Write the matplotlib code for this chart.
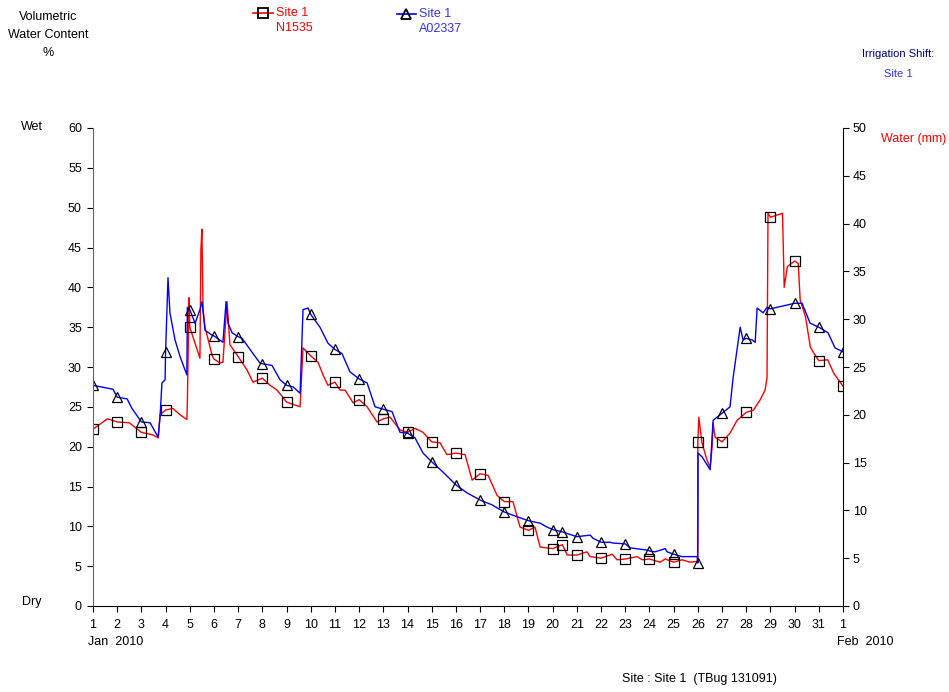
import numpy as np
import matplotlib
matplotlib.use("Agg")
import matplotlib.pyplot as plt
from matplotlib.lines import Line2D

plt.rcParams['font.family'] = ['Liberation Sans', 'DejaVu Sans']

# N1535 (red, squares) - day of Jan 2010, volumetric water content %
red_days = [1.0, 1.6, 2.0, 2.5, 3.0, 3.45, 3.7, 3.77, 4.0, 4.3, 4.6, 4.88, 4.9, 4.97,
            5.0, 5.42, 5.46, 5.5, 5.55, 5.63, 5.92, 6.0, 6.25, 6.37, 6.54, 6.66, 7.0,
            7.37, 7.61, 8.0, 8.32, 8.61, 9.0, 9.56, 9.68, 10.0, 10.3, 10.51, 10.71, 11.0,
            11.21, 11.42, 11.75, 12.0, 12.33, 12.74, 13.0, 13.28, 13.69, 14.0, 14.31,
            14.64, 15.0, 15.34, 15.63, 16.0, 16.38, 16.67, 17.0, 17.33, 17.7, 18.0,
            18.36, 18.65, 19.0, 19.27, 19.48, 20.0, 20.4, 20.6, 21.0, 21.42, 21.55, 22.0,
            22.46, 22.66, 23.0, 23.49, 23.7, 24.0, 24.44, 24.65, 25.0, 25.35, 25.68,
            25.99, 26.0, 26.04, 26.17, 26.38, 26.51, 26.59, 26.63, 26.71, 27.0, 27.33,
            27.62, 28.0, 28.3, 28.58, 28.78, 28.86, 28.9, 29.0, 29.5, 29.57, 29.7, 30.0,
            30.15, 30.23, 30.45, 30.65, 30.78, 31.0, 31.37, 31.62, 32.0]
red_vals = [22.2, 23.5, 23.1, 23.0, 21.8, 21.5, 21.1, 24.0, 24.6, 24.8, 24.0, 23.4, 25.5, 38.7,
            35.0, 31.1, 44.7, 47.3, 37.2, 35.0, 31.5, 31.0, 30.5, 30.6, 38.2, 32.8, 31.3,
            29.6, 28.1, 28.6, 27.7, 27.1, 25.6, 25.0, 32.4, 31.4, 30.6, 29.0, 27.7, 28.1,
            27.1, 27.1, 25.5, 25.9, 25.0, 23.1, 23.5, 23.7, 22.1, 21.8, 22.3,
            21.8, 20.6, 20.5, 19.0, 19.2, 19.0, 15.8, 16.6, 16.4, 13.9, 13.1,
            13.1, 9.9, 9.5, 9.9, 7.4, 7.2, 7.7, 6.4, 6.4, 6.8, 6.2, 6.0,
            6.5, 5.8, 5.9, 6.2, 5.8, 5.9, 5.5, 5.9, 5.5, 5.8, 5.5,
            5.6, 20.6, 23.7, 20.5, 18.3, 17.4, 20.0, 23.0, 21.2, 20.6, 21.7,
            23.3, 24.3, 24.6, 25.9, 27.1, 28.7, 49.3, 48.8, 49.3, 40.0, 42.6, 43.3,
            43.0, 38.4, 36.3, 32.5, 31.8, 30.8, 30.9, 29.2, 27.6]

# A02337 (blue, triangles)
blue_days = [1.0, 1.83, 2.0, 2.41, 2.61, 3.0, 3.36, 3.69, 3.77, 3.85, 3.98, 4.0, 4.1, 4.18,
             4.39, 4.6, 4.88, 4.9, 5.0, 5.22, 5.42, 5.51, 5.63, 5.92, 6.0, 6.37, 6.5,
             6.58, 6.75, 7.0, 7.16, 7.61, 7.9, 8.0, 8.4, 8.73, 9.0, 9.27, 9.56, 9.68,
             9.89, 10.0, 10.38, 10.71, 11.0, 11.29, 11.62, 12.0, 12.33, 12.66, 13.0,
             13.36, 13.69, 14.0, 14.31, 14.64, 15.0, 15.47, 16.0, 16.46, 17.0, 17.49,
             18.0, 18.53, 19.0, 19.48, 19.77, 20.0, 20.4, 21.0, 21.55, 21.67, 22.0,
             22.37, 22.5, 23.0, 23.2, 23.94, 24.0, 24.23, 24.65, 24.73, 25.0, 25.35,
             25.97, 26.0, 26.01, 26.18, 26.51, 26.63, 27.0, 27.33, 27.46, 27.75, 27.87,
             28.0, 28.24, 28.37, 28.45, 28.7, 28.86, 29.0, 30.0, 30.31, 30.64, 31.0,
             31.38, 31.67, 32.0]
blue_vals = [27.7, 27.2, 26.2, 26.0, 24.8, 23.1, 23.0, 21.2, 23.7, 28.0, 28.4, 31.9, 41.2, 36.8,
             33.4, 31.3, 29.0, 37.5, 37.2, 35.5, 37.2, 38.2, 34.6, 34.0, 33.9, 33.1, 38.2,
             35.5, 34.3, 33.8, 33.6, 31.7, 30.5, 30.4, 30.2, 28.4, 27.7, 27.5, 26.7, 37.2,
             37.4, 36.6, 35.0, 33.0, 32.2, 31.7, 29.4, 28.5, 28.0, 25.0, 24.7,
             24.4, 21.8, 21.7, 21.1, 19.2, 18.1, 16.8, 15.2, 14.2, 13.3, 12.7,
             11.8, 11.2, 10.7, 10.4, 9.9, 9.6, 9.3, 8.7, 8.9, 8.5, 8.0,
             8.0, 7.9, 7.8, 7.3, 7.0, 6.9, 6.8, 7.2, 6.8, 6.5, 6.2,
             6.2, 5.4, 19.2, 18.7, 17.1, 23.3, 24.2, 25.0, 28.7, 35.0, 33.4,
             33.6, 33.4, 33.1, 37.4, 36.8, 37.5, 37.3, 38.0, 38.0, 35.5, 35.0,
             34.3, 32.4, 31.9]

# days where the logger drew a marker
marker_days = list(range(1, 33)) + [20.4]

x_ticks = list(range(1, 33))
x_labels = [str(d) for d in range(1, 32)] + ['1']
left_ticks = list(range(0, 61, 5))
right_ticks = list(range(0, 51, 5))

RED = '#ff0000'
BLUE = '#0000ff'


def mark_idx(days):
    return [i for i, d in enumerate(days) if any(np.isclose(d, m) for m in marker_days)]


fig = plt.figure(figsize=(9.49, 6.92), dpi=100)
W, H = 949, 692
ax = fig.add_axes([93 / W, 1 - 606 / H, 750 / W, 478 / H])

ax.plot(red_days, red_vals, color=RED, lw=1.0, marker='s', markevery=mark_idx(red_days),
        ms=7, mfc='none', mec='black', mew=0.9)
ax.plot(blue_days, blue_vals, color=BLUE, lw=1.0, marker='^', markevery=mark_idx(blue_days),
        ms=7.5, mfc='none', mec='black', mew=0.9)

ax.set_xlim(1, 32)
ax.set_ylim(0, 60)
ax.set_xticks(x_ticks)
ax.set_xticklabels(x_labels)
ax.set_yticks(left_ticks)
ax.spines['top'].set_visible(False)
ax.spines['right'].set_visible(False)
ax.spines['left'].set_color('#666666')
ax.tick_params(axis='both', direction='out', length=4, width=0.8, labelsize=9, pad=4)
ax.tick_params(axis='x', pad=5)

ax2 = ax.twinx()
ax2.set_ylim(0, 50)
ax2.set_yticks(right_ticks)
for s in ['top', 'left', 'bottom']:
    ax2.spines[s].set_visible(False)
ax2.spines['right'].set_color('black')
ax2.tick_params(axis='y', direction='out', length=4, width=0.8, labelsize=9, pad=3)


def fx(px):
    return px / W


def fy(py):
    return 1 - py / H


# y-axis title and wet / dry
for txt, py in [('Volumetric', 17), ('Water Content', 35), ('%', 53)]:
    fig.text(fx(48), fy(py), txt, ha='center', va='center', fontsize=9)
fig.text(fx(32), fy(127), 'Wet', ha='center', va='center', fontsize=9)
fig.text(fx(32), fy(602), 'Dry', ha='center', va='center', fontsize=9)

# legend
fig.add_artist(Line2D([fx(253), fx(273)], [fy(13), fy(13)], color=RED, lw=1.2))
fig.add_artist(Line2D([fx(263)], [fy(13)], marker='s', ms=7, mfc='none', mec='black', mew=1.3))
fig.text(fx(276), fy(13), 'Site 1', color=RED, ha='left', va='center', fontsize=9)
fig.text(fx(276), fy(28), 'N1535', color=RED, ha='left', va='center', fontsize=9)
fig.add_artist(Line2D([fx(397), fx(416)], [fy(14), fy(14)], color=BLUE, lw=1.2))
fig.add_artist(Line2D([fx(406)], [fy(14)], marker='^', ms=7, mfc='none', mec='black', mew=1.3))
fig.text(fx(419), fy(14), 'Site 1', color='#3333ff', ha='left', va='center', fontsize=9)
fig.text(fx(419), fy(29), 'A02337', color='#3333ff', ha='left', va='center', fontsize=9)

# right side labels
fig.text(fx(898), fy(54), 'Irrigation Shift:', color='#000080', ha='center', va='center', fontsize=8)
fig.text(fx(898), fy(74), 'Site 1', color='#3333ff', ha='center', va='center', fontsize=8)
fig.text(fx(914), fy(139), 'Water (mm)', color=RED, ha='center', va='center', fontsize=9)

# date labels
fig.text(fx(88), fy(642), 'Jan  2010', ha='left', va='center', fontsize=9)
fig.text(fx(837), fy(642), 'Feb  2010', ha='left', va='center', fontsize=9)
fig.text(fx(699), fy(679), 'Site : Site 1  (TBug 131091)', ha='center', va='center', fontsize=9)

fig.savefig('out.png', dpi=100)
